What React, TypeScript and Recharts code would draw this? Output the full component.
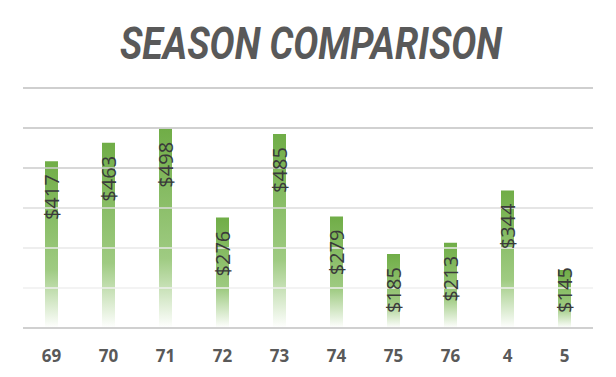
import { BarChart, Bar, XAxis, YAxis, ReferenceLine, LabelList } from "recharts";

const seasons = ["69", "70", "71", "72", "73", "74", "75", "76", "4", "5"];
const amounts = [417, 463, 498, 276, 485, 279, 185, 213, 344, 145];
const yTicks = [0, 100, 200, 300, 400, 500, 600];
const edgeTicks = [0, 1, 2, 3, 4, 5, 6, 7, 8, 9, 10];

// grid gets lighter towards the bottom
const gridColors: Record<number, string> = {
  100: "#efefef",
  200: "#e8e8e8",
  300: "#dcdcdc",
  400: "#cbcbcb",
  500: "#c2c2c2",
  600: "#bfbfbf",
};

const chartData = seasons.map((s, i) => ({ season: s, amount: amounts[i], i }));

const ValueLabel = (props: any) => {
  const { x, y, width, value } = props;
  const cx = x + width / 2;
  const cy = Math.min(y + 36, 290);
  return (
    <text
      x={cx}
      y={cy}
      transform={`rotate(-90 ${cx} ${cy})`}
      textAnchor="middle"
      dominantBaseline="central"
      fill="#3a3a3a"
      fontSize={20}
      fontFamily="'Open Sans', sans-serif"
    >
      ${value}
    </text>
  );
};

const SeasonTick = (props: any) => {
  const { x, y, payload } = props;
  return (
    <text
      x={x}
      y={y + 18}
      textAnchor="middle"
      dominantBaseline="central"
      fill="#595959"
      fontSize={17}
      fontWeight="bold"
      fontFamily="'Open Sans', sans-serif"
    >
      {payload.value}
    </text>
  );
};

export default function App() {
  return (
    <div style={{ position: "absolute", left: 0, top: 0, width: 616, height: 377, background: "#fff" }}>
      <BarChart
        width={616}
        height={377}
        data={chartData}
        margin={{ top: 88, right: 23, bottom: 19, left: 23 }}
      >
        <defs>
          <linearGradient id="barFill" x1="0" y1="0" x2="0" y2="1">
            <stop offset="0" stopColor="#70ad47" />
            <stop offset="0.65" stopColor="#9fcb82" />
            <stop offset="1" stopColor="#ffffff" />
          </linearGradient>
        </defs>
        <text
          x={311}
          y={59}
          textAnchor="middle"
          fill="#595959"
          fontSize={44}
          fontWeight="bold"
          fontStyle="italic"
          fontFamily="Roboto, sans-serif"
          textLength={382}
          lengthAdjust="spacingAndGlyphs"
        >
          SEASON COMPARISON
        </text>
        <XAxis
          xAxisId="axis0"
          type="number"
          dataKey="i"
          domain={[0, 10]}
          ticks={edgeTicks}
          allowDataOverflow
          tick={false}
          tickSize={5}
          tickLine={{ stroke: "#d0d0d0", strokeWidth: 2 }}
          axisLine={{ stroke: "#d0d0d0", strokeWidth: 2 }}
          height={1}
        />
        <XAxis
          xAxisId="names"
          dataKey="season"
          axisLine={false}
          tickLine={false}
          tick={<SeasonTick />}
          height={29}
          interval={0}
        />
        <YAxis hide domain={[0, 600]} ticks={yTicks} />
        {yTicks.slice(1).map((v) => (
          <ReferenceLine
            key={v}
            xAxisId="names"
            y={v}
            stroke={gridColors[v]}
            strokeWidth={1.3}
          />
        ))}
        <Bar dataKey="amount" xAxisId="names" fill="url(#barFill)" barSize={13} isAnimationActive={false}>
          <LabelList dataKey="amount" content={<ValueLabel />} />
        </Bar>
      </BarChart>
    </div>
  );
}
